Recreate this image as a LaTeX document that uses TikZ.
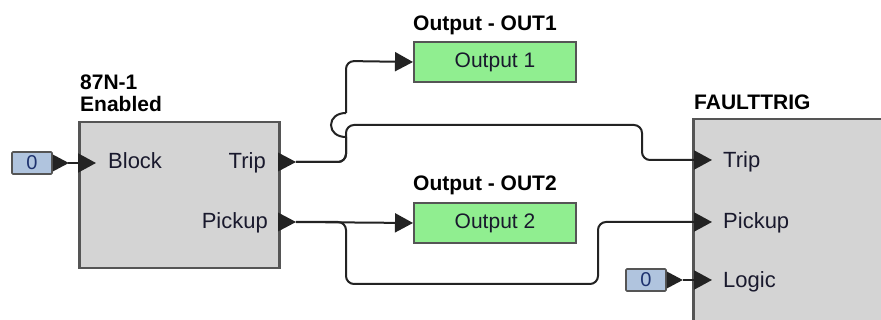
\documentclass[tikz,border=0pt]{standalone}
\usepackage{fontspec}
\setmainfont{Liberation Sans}
\usetikzlibrary{arrows.meta}
\definecolor{blkgray}{RGB}{212,212,212}
\definecolor{bordcol}{RGB}{85,85,85}
\definecolor{wirecol}{RGB}{35,35,35}
\definecolor{outgreen}{RGB}{144,238,144}
\definecolor{constblue}{RGB}{176,196,222}
\definecolor{txtcol}{RGB}{25,25,45}
\definecolor{constdark}{RGB}{30,50,110}
\begin{document}
\begin{tikzpicture}[x=1pt,y=-1pt,
  blk/.style={draw=bordcol, line width=2.5pt, fill=blkgray, anchor=north west, inner sep=0pt},
  outbox/.style={draw=bordcol, line width=2pt, fill=outgreen, anchor=north west, minimum width=162pt, minimum height=40pt, inner sep=0pt, font=\fontsize{21}{24}\selectfont, text=txtcol},
  constbox/.style={draw=bordcol, line width=1.6pt, fill=constblue, minimum width=40pt, minimum height=22pt, inner sep=0pt, rounded corners=1pt, font=\fontsize{20}{24}\selectfont, text=constdark},
  title/.style={anchor=base west, inner sep=0pt, font=\fontsize{21}{24}\selectfont\bfseries},
  lbl/.style={inner sep=0pt, font=\fontsize{22}{24}\selectfont, text=txtcol},
  wire/.style={draw=wirecol, line width=2pt, rounded corners=8pt},
  hopwire/.style={draw=wirecol, line width=2pt, sharp corners},
  arr/.style={-{Triangle[length=18pt,width=19pt]}},
  outtri/.pic={\fill[wirecol] (0,-9.5) -- (18,0) -- (0,9.5) -- cycle;},
  outtrismall/.pic={\fill[wirecol] (0,-8.5) -- (16,0) -- (0,8.5) -- cycle;},
]
\clip (0,0) rectangle (881,320);
\fill[white] (0,0) rectangle (881,320);

% blocks
\node[blk, minimum width=200pt, minimum height=146pt] (n87) at (78,121) {};
\node[blk, minimum width=220pt, minimum height=240pt] (ft) at (692,118) {};
\node[outbox] (out1) at (413,41) {Output 1};
\node[outbox] (out2) at (413,202) {Output 2};
\node[constbox] (c1) at (32,163) {0};
\node[constbox] (c2) at (646,280) {0};

% titles
\node[title] (t87a) at (80,90) {87N-1};
\node[title] (t87b) at (80,112) {Enabled};
\node[title] (tout1) at (413,31) {Output - OUT1};
\node[title] (tout2) at (413,191) {Output - OUT2};
\node[title] (tft) at (694,110) {FAULTTRIG};

% port labels
\node[lbl, anchor=base west] (lblock) at (108,169) {Block};
\node[lbl, anchor=base east] (ltrip) at (266,169) {Trip};
\node[lbl, anchor=base east] (lpick) at (268,229) {Pickup};
\node[lbl, anchor=base west] (ftrip) at (723,168) {Trip};
\node[lbl, anchor=base west] (fpick) at (723,229) {Pickup};
\node[lbl, anchor=base west] (flogic) at (723,288) {Logic};

% output triangles
\pic at (c1.east) {outtrismall};
\pic at (c2.east) {outtrismall};
\pic at (278,162) {outtri};
\pic at (278,222) {outtri};

% port coordinates
\coordinate (c1o) at (68,163);
\coordinate (blkin) at (96,163);
\coordinate (tripo) at (296,162);
\coordinate (picko) at (296,222);
\coordinate (fttripin) at (712,160);
\coordinate (ftpickin) at (712,222);
\coordinate (c2o) at (683,280);
\coordinate (ftlogin) at (712,280);
\coordinate (hopb) at (346,137);
\coordinate (hopt) at (346,113);

% wires
\draw[wire, arr] (c1o) -- (blkin);
\draw[wire, arr] (c2o) -- (ftlogin);
\draw[wire] (tripo) -- (346,162) -- (hopb);
\draw[hopwire] (hopb) .. controls (337,137) and (331,132) .. (331,125)
                      .. controls (331,118) and (337,113) .. (hopt);
\draw[wire, arr] (hopt) -- (346,61) -- (out1.west);
\draw[wire, arr] (tripo) -- (346,162) -- (346,125) -- (642,125) -- (642,160) -- (fttripin);
\draw[wire, arr] (picko) -- (out2.west);
\draw[wire, arr] (picko) -- (346,222) -- (346,284) -- (598,284) -- (598,222) -- (ftpickin);
\end{tikzpicture}
\end{document}
